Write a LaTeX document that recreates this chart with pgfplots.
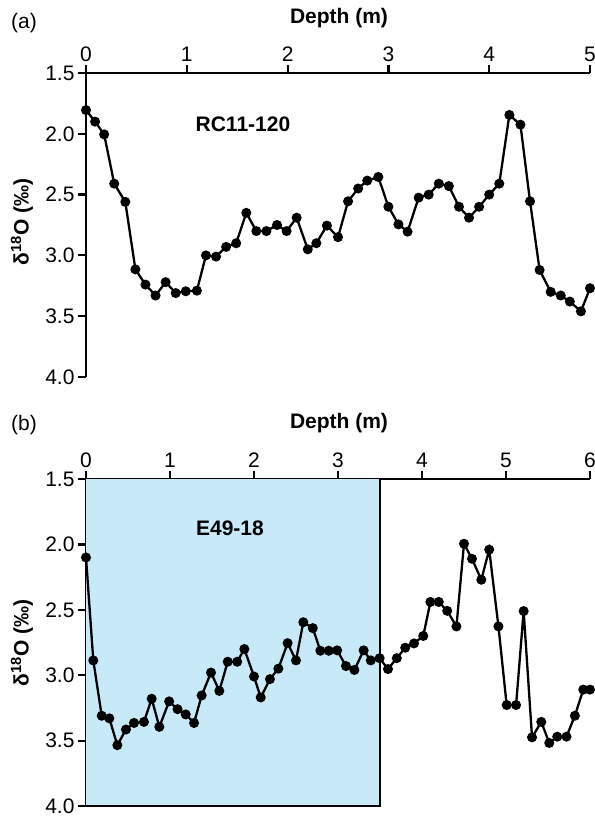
\documentclass[border=0pt]{standalone}
\usepackage{fontspec}
\setmainfont{Liberation Sans}
\usepackage{pgfplots}
\pgfplotsset{compat=1.18}
\definecolor{core}{RGB}{199,233,248}
\newcommand{\fs}{\fontsize{21}{25}\selectfont}
\pgfplotsset{
 myax/.style={
  scale only axis, y dir=reverse,
  ymin=1.5, ymax=4, ytick={1.5,2,2.5,3,3.5,4},
  axis x line*=top, axis y line*=left,
  axis line style={line width=2.8pt},
  every outer x axis line/.append style={line width=2.8pt},
  every outer y axis line/.append style={line width=2.8pt},
  tick style={line width=2.2pt, black},
  major tick length=8pt,
  tick align=outside,
  ticklabel style={font=\fs},
  yticklabel style={/pgf/number format/fixed, /pgf/number format/fixed zerofill, /pgf/number format/precision=1},
  /pgf/number format/assume math mode=true,
  clip=false,
 },
 dat/.style={black, line width=2.3pt, mark=*, mark size=3.8pt},
}
\pgfplotstableread{
x y
0 1.805
0.09 1.90
0.18 2.005
0.28 2.41
0.39 2.56
0.49 3.115
0.59 3.24
0.69 3.33
0.79 3.22
0.89 3.31
0.99 3.295
1.10 3.29
1.19 3.00
1.29 3.01
1.39 2.93
1.49 2.90
1.59 2.65
1.69 2.80
1.79 2.80
1.895 2.75
1.99 2.80
2.09 2.69
2.20 2.95
2.285 2.90
2.39 2.755
2.50 2.85
2.60 2.555
2.70 2.45
2.79 2.385
2.90 2.355
3.00 2.60
3.10 2.745
3.19 2.805
3.30 2.525
3.40 2.50
3.50 2.41
3.60 2.43
3.70 2.60
3.80 2.69
3.90 2.60
4.00 2.50
4.10 2.41
4.20 1.845
4.31 1.925
4.405 2.555
4.50 3.12
4.61 3.30
4.71 3.33
4.80 3.38
4.91 3.46
5.00 3.27
}\tabA
\pgfplotstableread{
x y
0 2.10
0.087 2.887
0.187 3.31
0.278 3.33
0.373 3.535
0.476 3.415
0.571 3.365
0.69 3.357
0.782 3.18
0.873 3.395
0.99 3.20
1.09 3.26
1.187 3.30
1.286 3.365
1.377 3.155
1.488 2.98
1.587 3.12
1.687 2.897
1.80 2.897
1.885 2.80
2.0 3.01
2.08 3.17
2.19 3.03
2.29 2.95
2.40 2.755
2.50 2.887
2.587 2.595
2.70 2.64
2.79 2.813
2.89 2.813
2.99 2.81
3.095 2.93
3.195 2.96
3.305 2.81
3.39 2.887
3.496 2.87
3.595 2.953
3.70 2.87
3.80 2.79
3.905 2.757
4.015 2.70
4.10 2.44
4.20 2.44
4.30 2.508
4.41 2.627
4.50 1.995
4.595 2.11
4.706 2.27
4.80 2.04
4.91 2.627
5.008 3.228
5.12 3.228
5.21 2.51
5.31 3.475
5.42 3.357
5.515 3.518
5.61 3.47
5.72 3.47
5.82 3.31
5.92 3.11
6.0 3.11
}\tabB
\begin{document}
\begin{tikzpicture}
\path[use as bounding box] (0,0) rectangle (594pt,816pt);
\begin{axis}[myax, at={(86pt,439pt)}, anchor=south west, width=504pt, height=304pt,
  xmin=0, xmax=5, xtick={0,1,2,3,4,5}]
\addplot[dat] table[x=x,y=y] {\tabA};
\node[font=\fs\bfseries] at (axis cs:1.557,1.92) {RC11-120};
\end{axis}
\begin{axis}[myax, at={(86pt,10pt)}, anchor=south west, width=504pt, height=327pt,
  xmin=0, xmax=6, xtick={0,1,2,3,4,5,6}]
\fill[core] (axis cs:0,1.5) rectangle (axis cs:3.5,4);
\draw[black, line width=2.4pt] (axis cs:3.5,1.5) -- (axis cs:3.5,4) -- (axis cs:0,4);
\addplot[dat] table[x=x,y=y] {\tabB};
\node[font=\fs\bfseries] at (axis cs:1.714,1.88) {E49-18};
\end{axis}
\node[font=\fs\bfseries] at (339pt,798pt) {Depth (m)};
\node[font=\fs\bfseries] at (339pt,393pt) {Depth (m)};
\node[font=\fs] at (24pt,793pt) {(a)};
\node[font=\fs] at (24pt,391pt) {(b)};
\node[font=\fs\bfseries, rotate=90] at (22pt,594pt) {δ\textsuperscript{18}O (‰)};
\node[font=\fs\bfseries, rotate=90] at (22pt,173pt) {δ\textsuperscript{18}O (‰)};
\end{tikzpicture}
\end{document}
